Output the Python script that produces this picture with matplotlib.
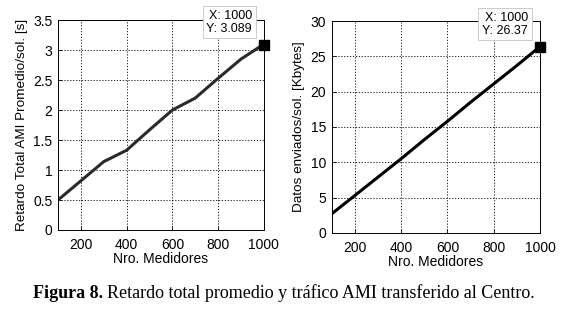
import matplotlib.pyplot as plt

# data
medidores = [100, 200, 300, 400, 500, 600, 700, 800, 900, 980]
retardo = [0.5, 0.82, 1.14, 1.33, 1.67, 2.0, 2.2, 2.53, 2.85, 3.05]
datos = [2.7, 5.3, 7.9, 10.5, 13.2, 15.8, 18.5, 21.1, 23.7, 25.85]

tip_x = 1000
tip_retardo = 3.089
tip_datos = 26.37

xticks = [200, 400, 600, 800, 1000]

plt.rcParams['font.family'] = ['Liberation Sans', 'DejaVu Sans']

fig = plt.figure(figsize=(5.8, 3.19), dpi=100)
ax1 = fig.add_axes([0.100, 0.279, 0.355, 0.658])
ax2 = fig.add_axes([0.572, 0.270, 0.359, 0.664])


def style(ax, ylim, yticks, ylabel):
    ax.set_xlim(100, 1000)
    ax.set_ylim(*ylim)
    ax.set_xticks(xticks)
    ax.set_yticks(yticks)
    ax.set_yticklabels([('%g' % t) for t in yticks])
    ax.grid(True, linestyle=(0, (1.5, 2)), color='black', linewidth=0.6)
    ax.tick_params(direction='in', length=3, labelsize=10, width=0.6, pad=4)
    ax.tick_params(axis='x', pad=6)
    for s in ax.spines.values():
        s.set_linewidth(0.7)
    ax.set_xlabel('Nro. Medidores', fontsize=10, labelpad=0)
    ax.set_ylabel(ylabel, fontsize=9.7, labelpad=4)


def datatip(ax, x, y, label):
    ax.plot([x], [y], marker='s', color='black', markersize=7, clip_on=False, zorder=5)
    ax.annotate(label, xy=(x, y), xytext=(-12, 10), textcoords='offset pixels',
                ha='right', va='bottom', fontsize=9, annotation_clip=False,
                linespacing=1.1,
                bbox=dict(boxstyle='square,pad=0.3', fc='white', ec='#cccccc', lw=0.7),
                zorder=6)


ax1.plot(medidores, retardo, color='#2a2a2a', linewidth=2.2)
style(ax1, (0, 3.5), [0, 0.5, 1, 1.5, 2, 2.5, 3, 3.5], 'Retardo Total AMI Promedio/sol. [s]')
datatip(ax1, tip_x, tip_retardo, 'X: 1000\nY: 3.089')

ax2.plot(medidores, datos, color='black', linewidth=2.2)
style(ax2, (0, 30), [0, 5, 10, 15, 20, 25, 30], 'Datos enviados/sol. [Kbytes]')
datatip(ax2, tip_x, tip_datos, 'X: 1000\nY: 26.37')

serif = ['Liberation Serif', 'DejaVu Serif']
t1 = fig.text(33 / 580, 0.08, 'Figura 8.', fontsize=13, fontweight='bold',
              family=serif, va='center')
fig.canvas.draw()
bb = t1.get_window_extent()
fig.text((bb.x1 + 4) / 580, 0.08,
         'Retardo total promedio y tráfico AMI transferido al Centro.',
         fontsize=13, family=serif, va='center')

fig.savefig('out.png', dpi=100)
